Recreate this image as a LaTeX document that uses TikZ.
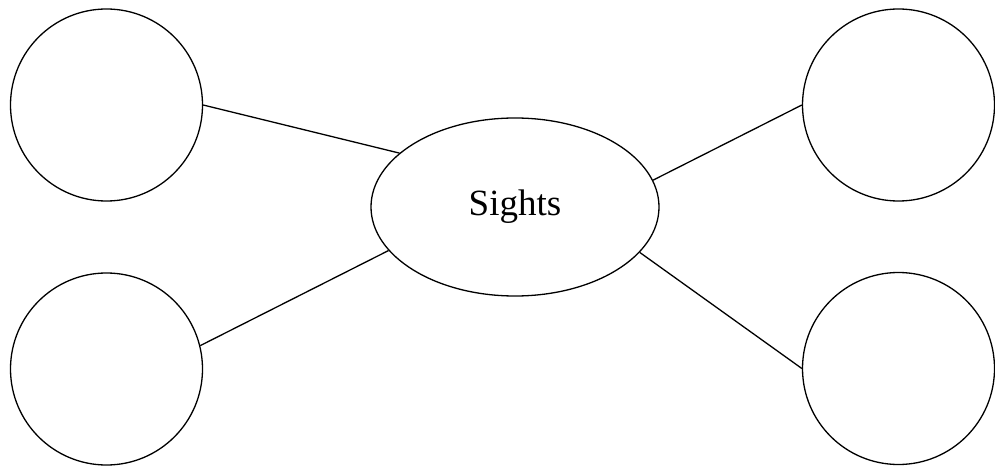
\documentclass[tikz,border=0pt]{standalone}
\usepackage{fontspec}
\setmainfont{Liberation Serif}
\usetikzlibrary{shapes.geometric}
\begin{document}
\begin{tikzpicture}[x=1pt,y=-1pt,
  every path/.style={line width=1.3pt},
  blob/.style={draw, circle, minimum size=192pt, inner sep=0pt, line width=1.3pt},
  hub/.style={draw, ellipse, minimum width=288pt, minimum height=178pt, inner sep=0pt, line width=1.3pt, font=\fontsize{37}{44}\selectfont}]
\useasboundingbox (0,0) rectangle (995,470);
\node[hub] (s) at (515,207) {Sights};
\node[blob] (tl) at (106.5,105) {};
\node[blob] (bl) at (106.5,369) {};
\node[blob] (tr) at (898.5,105) {};
\node[blob] (br) at (898.5,368.5) {};
\draw (tl.east) -- (s.155.7);
\draw (bl.14.5) -- (s.199.4);
\draw (tr.west) -- (s.11.8);
\draw (br.west) -- (s.340.9);
\end{tikzpicture}
\end{document}
